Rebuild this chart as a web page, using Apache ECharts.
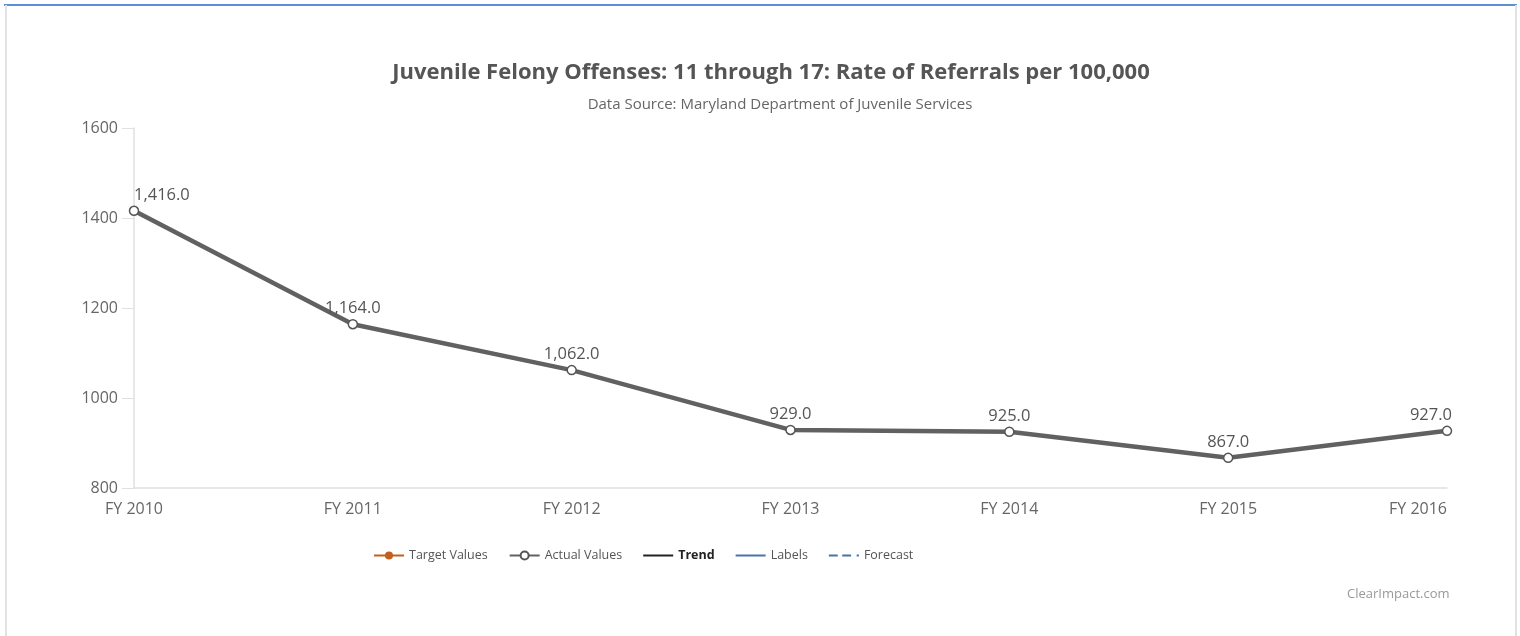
<!DOCTYPE html>
<html>
<head>
<meta charset="utf-8">
<script src="https://cdn.jsdelivr.net/npm/echarts@6/dist/echarts.min.js"></script>
<style>
html,body{margin:0;padding:0;background:#fff;}
#c{width:1520px;height:636px;}
</style>
</head>
<body>
<div id="c"></div>
<script>
const categories = ['FY 2010','FY 2011','FY 2012','FY 2013','FY 2014','FY 2015','FY 2016'];
const actualValues = [1416, 1164, 1062, 929, 925, 867, 927];
const yTicks = [800, 1000, 1200, 1400, 1600];
const titleText = 'Juvenile Felony Offenses: 11 through 17: Rate of Referrals per 100,000';
const subtitleText = 'Data Source: Maryland Department of Juvenile Services';
const legendNames = ['Target Values','Actual Values','Trend','Labels','Forecast'];

const chart = echarts.init(document.getElementById('c'));
const font = '"Open Sans", "Noto Sans", sans-serif';

const fmt = v => v.toLocaleString('en-US', {minimumFractionDigits:1, maximumFractionDigits:1});

const actualData = actualValues.map((v, i) => {
  const item = {value: v};
  if (i === 0) item.label = {align: 'left', offset: [0, 0]};
  if (i === actualValues.length - 1) item.label = {align: 'right', offset: [5, 0]};
  return item;
});

const lineIcon = 'path://M0,4H30V6H0Z';
const dashIcon = 'path://M0,4H8V6H0ZM12,4H20V6H12ZM25,4H27V6H25Z';

chart.setOption({
  animation: false,
  backgroundColor: '#fff',
  textStyle: {fontFamily: font},
  title: [{
    text: titleText,
    left: 766, top: 57, textAlign: 'center',
    textStyle: {fontSize: 22, fontWeight: 'bold', color: '#555', fontFamily: font}
  },{
    text: subtitleText,
    left: 775, top: 92, textAlign: 'center',
    textStyle: {fontSize: 15, fontWeight: 'normal', color: '#666', fontFamily: font}
  },{
    text: 'ClearImpact.com',
    left: 1342, top: 583,
    textStyle: {fontSize: 13, fontWeight: 'normal', color: '#999', fontFamily: font}
  }],
  legend: {
    data: [
      {name: legendNames[0]},
      {name: legendNames[1]},
      {name: legendNames[2], icon: lineIcon, textStyle: {fontWeight: 'bold', color: '#222'}},
      {name: legendNames[3], icon: lineIcon},
      {name: legendNames[4], icon: dashIcon}
    ],
    left: 368, top: 544,
    itemWidth: 30, itemHeight: 10, itemGap: 21,
    textStyle: {fontSize: 12.5, color: '#555', fontFamily: font},
    selectedMode: false
  },
  graphic: [
    {type: 'rect', shape: {x: 4, y: 4, width: 1513, height: 2}, style: {fill: '#5b8fd6'}, silent: true},
    {type: 'rect', shape: {x: 5, y: 5, width: 2, height: 631}, style: {fill: '#e2e2e2'}, silent: true},
    {type: 'rect', shape: {x: 1515, y: 5, width: 2, height: 631}, style: {fill: '#e2e2e2'}, silent: true}
  ],
  grid: {left: 134, right: 73, top: 128, bottom: 148},
  xAxis: {
    type: 'category',
    data: categories,
    boundaryGap: false,
    axisLine: {lineStyle: {color: '#e0e0e0', width: 1.5}},
    axisTick: {show: false},
    axisLabel: {fontSize: 16, color: '#666', margin: 13, fontFamily: font, alignMaxLabel: 'right'},
    splitLine: {show: false}
  },
  yAxis: {
    type: 'value',
    min: yTicks[0], max: yTicks[yTicks.length - 1], interval: 200,
    axisLine: {show: true, lineStyle: {color: '#e0e0e0', width: 1.5}},
    axisTick: {show: true, length: 12, lineStyle: {color: '#e0e0e0'}},
    axisLabel: {fontSize: 16, color: '#666', margin: 16, fontFamily: font, formatter: v => String(v)},
    splitLine: {show: false}
  },
  series: [
    {name: legendNames[0], type: 'line', data: [], color: '#c0601f',
      symbol: 'circle', symbolSize: 8, lineStyle: {color: '#c0601f', width: 3}, itemStyle: {color: '#c0601f'}},
    {name: legendNames[1], type: 'line', data: actualData, color: '#616161',
      symbol: 'circle', symbolSize: 9,
      lineStyle: {color: '#616161', width: 4.5},
      itemStyle: {color: '#fff', borderColor: '#555', borderWidth: 1.5},
      label: {show: true, position: 'top', distance: 2, fontSize: 16.5, color: '#555',
        fontFamily: font, formatter: p => fmt(p.value)},
      z: 3},
    {name: legendNames[2], type: 'line', data: [], color: '#222', symbol: 'none',
      lineStyle: {color: '#222', width: 1.5}},
    {name: legendNames[3], type: 'line', data: [], color: '#4a72a8', symbol: 'none',
      lineStyle: {color: '#4a72a8', width: 2}},
    {name: legendNames[4], type: 'line', data: [], color: '#4a72a8', symbol: 'none',
      lineStyle: {color: '#4a72a8', width: 2, type: 'dashed'}}
  ]
});
</script>
</body>
</html>
